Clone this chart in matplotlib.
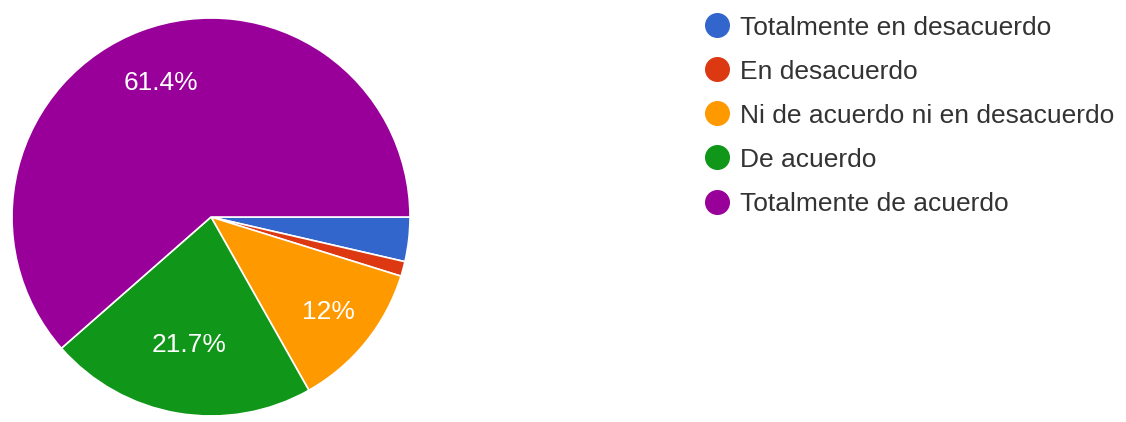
import matplotlib.pyplot as plt
from matplotlib.lines import Line2D

# respuestas en porcentaje, en el orden de la leyenda
categorias = ["Totalmente en desacuerdo", "En desacuerdo",
              "Ni de acuerdo ni en desacuerdo", "De acuerdo",
              "Totalmente de acuerdo"]
porcentajes = [3.6, 1.2, 12, 21.7, 61.4]
colores = ["#3366cc", "#dc3912", "#ff9900", "#109618", "#990099"]

# solo se rotulan las porciones grandes
etiquetas = ["{:g}%".format(p) if p >= 5 else "" for p in porcentajes]
# distancia de cada rotulo al centro (fraccion del radio)
dist_rotulo = [0.72, 0.72, 0.76, 0.65, 0.72]

plt.rcParams["font.family"] = ["Liberation Sans", "DejaVu Sans"]

W, H = 1126, 422
fig = plt.figure(figsize=(W / 100, H / 100), dpi=100)

# pie centrado en (211, 217) px con radio 199 px
cx, cy, r = 211, 217, 199
ax = fig.add_axes([(cx - r) / W, (H - cy - r) / H, 2 * r / W, 2 * r / H])
wedges, textos = ax.pie(porcentajes, colors=colores, labels=etiquetas,
                        startangle=0, counterclock=False, radius=1,
                        labeldistance=1.0,
                        wedgeprops=dict(edgecolor="white", linewidth=1.2))
for t, d in zip(textos, dist_rotulo):
    x, y = t.get_position()
    t.set_position((x * d, y * d))
    t.set_ha("center")
    t.set_va("center")
    t.set_color("white")
    t.set_fontsize(19)
ax.set_xlim(-1, 1)
ax.set_ylim(-1, 1)
ax.set_aspect("equal")

# leyenda
handles = [Line2D([], [], marker="o", ls="", markersize=17, color=c) for c in colores]
fig.legend(handles, categorias, loc="upper left",
           bbox_to_anchor=(696 / W, 1 - 5 / H), frameon=False,
           fontsize=19, labelcolor="#333333", handlelength=0.8,
           handletextpad=0.45, labelspacing=0.76, borderaxespad=0)

fig.savefig("out.png", dpi=100)
